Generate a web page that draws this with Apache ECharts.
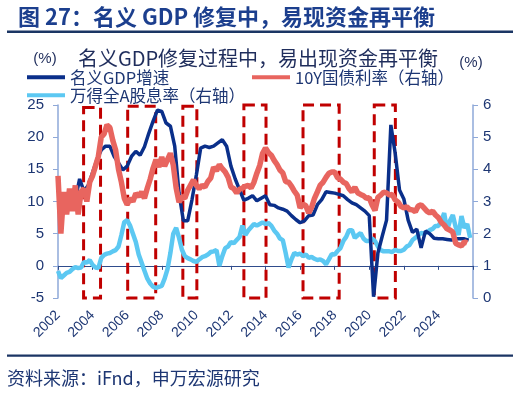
<!DOCTYPE html>
<html><head><meta charset="utf-8">
<script src="https://cdn.jsdelivr.net/npm/echarts@6/dist/echarts.min.js"></script>
<style>html,body{margin:0;padding:0;background:#fff}#c{width:528px;height:393px}</style>
</head><body><div id="c"></div>
<script>
const titleText = '图 27：名义 GDP 修复中，易现资金再平衡';
const chartTitle = '名义GDP修复过程中，易出现资金再平衡';
const sourceText = '资料来源：iFnd，申万宏源研究';
const unitText = '(%)';
const seriesNames = ['名义GDP增速', '10Y国债利率（右轴）', '万得全A股息率（右轴）'];
const xTicks = [2002, 2004, 2006, 2008, 2010, 2012, 2014, 2016, 2018, 2020, 2022, 2024];
const xMax = 2026;
const leftTicks = [-5, 0, 5, 10, 15, 20, 25];
const rightTicks = [0, 1, 2, 3, 4, 5, 6];

// quarterly nominal GDP growth, first point 2002Q1 (quarter-end dates)
const gdpStart = 2002.25, gdpStep = 0.25;
const gdpValues = [
  9.3, 9.5, 9.8, 10.3,
  13.5, 11.6, 12.5, 14.5,
  16.5, 18.0, 18.6, 18.6,
  17.0, 16.0, 14.9, 15.5,
  17.0, 17.8, 17.2, 18.5,
  20.6, 22.5, 24.2, 24.0,
  22.2, 21.7, 18.6, 11.3,
  7.0, 7.0, 10.3, 14.1,
  18.3, 18.6, 18.4, 18.6,
  19.1, 19.6, 18.6, 15.5,
  13.5, 11.8, 10.2, 10.5,
  10.9, 10.1, 10.5, 10.9,
  9.5, 9.4, 9.0, 8.8,
  8.5, 7.8, 7.2, 6.7,
  7.0, 7.8, 7.9, 9.5,
  10.3, 11.5, 11.4, 11.3,
  11.1, 10.9, 10.3, 9.8,
  9.5, 9.0, 8.5, 7.8,
  -4.8, 2.0, 4.6, 7.1,
  21.9, 17.5, 11.8, 10.4,
  7.1, 5.2, 5.7, 2.8,
  5.4, 5.0, 4.3, 4.2,
  4.2, 4.1, 4.0, 4.2,
  4.2, 4.2, 4.0
];

// 10Y government bond yield, bi-monthly samples from 2002.0
const bondStart = 2002.0, bondStep = 1 / 6;
const bondValues = [
  3.8, 2.0, 3.3, 2.6, 3.4, 2.7,
  3.5, 2.6, 3.3, 3.4, 3.0, 3.6,
  3.8, 4.1, 4.4, 5.0, 5.1, 5.38,
  5.3, 4.9, 4.6, 4.0, 3.6, 3.1,
  2.9, 3.1, 3.0, 3.25, 3.15, 3.3,
  3.1, 3.42, 3.7, 4.04, 4.3, 4.07,
  4.38, 4.1, 4.3, 4.5, 4.13, 3.42,
  2.98, 3.15, 3.1, 3.35, 3.51, 3.67,
  3.5, 3.4, 3.5, 3.45, 3.62, 3.73,
  4.07, 3.95, 4.15, 4.02, 3.92, 3.76,
  3.45, 3.4, 3.27, 3.38, 3.42, 3.47,
  3.5, 3.42, 3.6, 3.88, 4.12, 4.5,
  4.66, 4.52, 4.44, 4.28, 4.15, 3.98,
  3.89, 3.62, 3.6, 3.48, 3.32, 3.2,
  2.8, 2.92, 2.87, 2.64, 2.82, 3.1,
  3.3, 3.51, 3.6, 3.75, 3.88, 3.92,
  3.92, 3.74, 3.7, 3.6, 3.56, 3.4,
  3.3, 3.44, 3.27, 3.22, 3.18, 3.1,
  3.12, 2.89, 2.72, 3.13, 3.2, 3.29,
  3.27, 3.2, 3.22, 3.05, 2.98, 2.85,
  2.8, 2.84, 2.75, 2.74, 2.68, 2.86,
  2.9, 2.8, 2.7, 2.64, 2.7, 2.58,
  2.5, 2.35, 2.27, 2.15, 2.11, 2.05,
  1.7, 1.65, 1.62, 1.75, 1.71
];

// Wind All-A dividend yield, bi-monthly samples from 2002.0
const divStart = 2002.0, divStep = 1 / 6;
const divValues = [
  0.84, 0.62, 0.7, 0.78, 0.81, 0.9,
  0.96, 0.93, 0.95, 1.12, 1.1, 1.18,
  1.03, 0.95, 0.93, 1.24, 1.34, 1.38,
  1.4, 1.45, 1.49, 1.6, 1.96, 2.36,
  2.42, 2.25, 2.0, 1.74, 1.35, 1.1,
  0.85, 0.6, 0.45, 0.35, 0.31, 0.35,
  0.38, 0.6, 0.9, 1.4, 2.0, 2.18,
  1.87, 1.5, 1.3, 1.24, 1.2, 1.15,
  1.12, 1.2, 1.27, 1.3, 1.35, 1.43,
  1.45, 1.49, 1.0, 1.3, 1.55, 1.6,
  1.74, 1.7, 1.8, 1.9, 2.25, 1.96,
  2.1, 2.2, 2.3, 2.25, 2.3, 2.35,
  2.3, 2.33, 2.25, 2.1, 2.0, 1.85,
  1.8, 1.4, 0.95, 1.2, 1.4, 1.35,
  1.38, 1.3, 1.35, 1.25, 1.28, 1.22,
  1.18, 1.2, 1.15, 1.05, 1.2, 1.37,
  1.35, 1.46, 1.55, 1.77, 1.9, 2.11,
  2.11, 1.87, 1.95, 2.02, 1.85, 1.77,
  1.77, 1.85, 1.77, 1.6, 1.49, 1.45,
  1.45, 1.45, 1.43, 1.5, 1.46, 1.46,
  1.5, 1.6, 1.65, 1.8, 1.87, 1.95,
  2.02, 2.0, 2.05, 2.11, 2.15, 2.24,
  2.24, 2.4, 2.64, 2.11, 2.4, 2.58,
  2.2, 1.96, 2.55, 2.18, 2.3, 1.87
];

// highlighted periods (dashed boxes), in years and left-axis units
const boxStart = [2003.48, 2006.03, 2009.22, 2012.75, 2016.17, 2020.29];
const boxEnd   = [2004.46, 2007.65, 2010.03, 2014.03, 2018.26, 2021.51];
const boxTop   = [24.6, 24.8, 24.8, 25.0, 25.0, 25.0];
const boxBottom = -5.2;

const toPairs = (start, step, vals) => vals.map((v, i) => [+(start + i * step).toFixed(4), v]);

const C_GDP = '#0A2F8A', C_BOND = '#E8655F', C_DIV = '#5CC8F2', C_BOX = '#C00000';
const TXT = '#1D3673';
const FONT = 'Arial, "Liberation Sans", "Noto Sans CJK SC", sans-serif';
const CJK = '"Noto Sans CJK SC", Arial, sans-serif';

const chart = echarts.init(document.getElementById('c'), null, {renderer: 'canvas'});
const legendBase = {
  icon: 'rect', itemWidth: 38, itemHeight: 4, padding: 0, itemGap: 0, selectedMode: false,
  textStyle: {color: TXT, fontSize: 16.5, fontFamily: CJK, padding: [0, 0, 0, 0]}
};
chart.setOption({
  animation: false,
  textStyle: {fontFamily: FONT},
  grid: {left: 58, right: 55, top: 105, bottom: 95, containLabel: false},
  legend: [
    Object.assign({}, legendBase, {data: [seriesNames[0]], left: 27, top: 69}),
    Object.assign({}, legendBase, {data: [seriesNames[1]], left: 252, top: 69}),
    Object.assign({}, legendBase, {data: [seriesNames[2]], left: 27, top: 87})
  ],
  xAxis: [
    {
      type: 'value', position: 'bottom', min: xTicks[0], max: xMax, interval: 2,
      axisLine: {show: false, onZero: false},
      axisTick: {show: false},
      splitLine: {show: false},
      axisLabel: {
        rotate: 45, margin: 15, color: TXT, fontSize: 14, fontFamily: FONT,
        formatter: v => (xTicks.indexOf(v) >= 0 ? String(v) : '')
      }
    },
    {
      type: 'value', position: 'top', min: xTicks[0], max: xMax, interval: 2,
      axisLine: {show: true, onZero: true, onZeroAxisIndex: 0, lineStyle: {color: '#2F4C8C', width: 1}},
      axisTick: {show: true, inside: true, length: 4, lineStyle: {color: '#2F4C8C'}},
      axisLabel: {show: false},
      splitLine: {show: false}
    }
  ],
  yAxis: [
    {
      type: 'value', position: 'left', min: leftTicks[0], max: leftTicks[leftTicks.length - 1], interval: 5,
      axisLine: {show: true, lineStyle: {color: '#8EA8D8', width: 1.5}},
      axisTick: {show: true, length: 5, lineStyle: {color: '#8EA8D8'}},
      splitLine: {show: false},
      axisLabel: {color: TXT, fontSize: 15, margin: 14, fontFamily: FONT}
    },
    {
      type: 'value', position: 'right', min: rightTicks[0], max: rightTicks[rightTicks.length - 1], interval: 1,
      axisLine: {show: true, lineStyle: {color: '#8EA8D8', width: 1.5}},
      axisTick: {show: true, length: 5, lineStyle: {color: '#8EA8D8'}},
      splitLine: {show: false},
      axisLabel: {color: TXT, fontSize: 15, margin: 10, fontFamily: FONT}
    }
  ],
  series: [
    {
      name: seriesNames[2], type: 'line', xAxisIndex: 0, yAxisIndex: 1,
      data: toPairs(divStart, divStep, divValues), showSymbol: false, symbol: 'none',
      lineStyle: {color: C_DIV, width: 4.5}, itemStyle: {color: C_DIV}, z: 2
    },
    {
      name: seriesNames[0], type: 'line', xAxisIndex: 0, yAxisIndex: 0,
      data: toPairs(gdpStart, gdpStep, gdpValues), showSymbol: false, symbol: 'none',
      lineStyle: {color: C_GDP, width: 3.5}, itemStyle: {color: C_GDP}, z: 3,
      markArea: {
        silent: true,
        label: {show: false},
        itemStyle: {color: 'rgba(0,0,0,0)', borderColor: C_BOX, borderWidth: 3, borderType: [11, 6]},
        data: boxStart.map((s, i) => [{xAxis: s, yAxis: boxTop[i]}, {xAxis: boxEnd[i], yAxis: boxBottom}])
      }
    },
    {
      name: seriesNames[1], type: 'line', xAxisIndex: 0, yAxisIndex: 1,
      data: toPairs(bondStart, bondStep, bondValues), showSymbol: false, symbol: 'none',
      lineStyle: {color: C_BOND, width: 5.5}, itemStyle: {color: C_BOND}, z: 4
    }
  ],
  graphic: [
    {type: 'text', left: 18, top: 6, style: {text: titleText, fill: '#1C3F8E', font: 'bold 22px ' + CJK}},
    {type: 'rect', shape: {x: 7, y: 30.5, width: 506, height: 2.5}, style: {fill: '#1B3564'}},
    {type: 'text', x: 258, y: 58, style: {text: chartTitle, fill: '#1F2D5C', font: '20px ' + CJK, textAlign: 'center', textVerticalAlign: 'middle'}},
    {type: 'text', x: 45, y: 59, style: {text: unitText, fill: '#1F2D5C', font: '15px ' + FONT, textAlign: 'center', textVerticalAlign: 'middle'}},
    {type: 'text', x: 471, y: 63, style: {text: unitText, fill: '#1F2D5C', font: '15px ' + FONT, textAlign: 'center', textVerticalAlign: 'middle'}},
    {type: 'rect', shape: {x: 7, y: 354.5, width: 506, height: 2.2}, style: {fill: '#1B3564'}},
    {type: 'text', x: 7, y: 378, style: {text: sourceText, fill: TXT, font: '18px ' + CJK, textVerticalAlign: 'middle'}}
  ]
});
</script>
</body></html>
